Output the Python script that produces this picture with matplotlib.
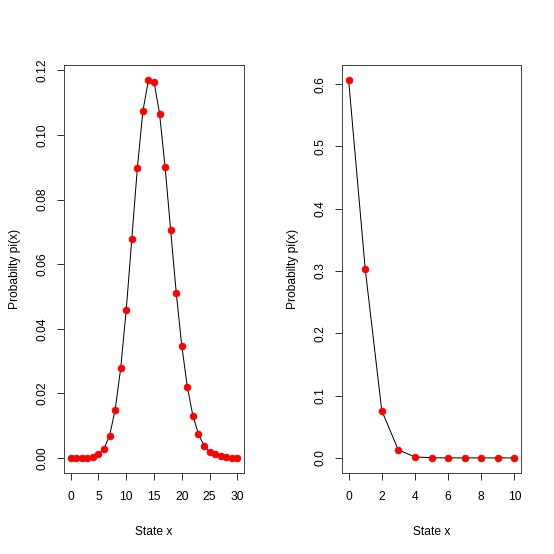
import matplotlib
matplotlib.use("Agg")
import matplotlib.pyplot as plt
from matplotlib.ticker import FixedLocator

plt.rcParams['font.family'] = ['Liberation Sans', 'DejaVu Sans']

# Left panel data
states_left = list(range(31))
prob_left = [0.00001, 0.00002, 0.00004, 0.0001, 0.0004, 0.0011, 0.0028, 0.0069, 0.0148, 0.0277,
             0.0458, 0.0677, 0.0897, 0.1074, 0.1170, 0.1165, 0.1066, 0.0900, 0.0705, 0.0512,
             0.0347, 0.0220, 0.0131, 0.0074, 0.0038, 0.0019, 0.0011, 0.0006, 0.0003, 0.0001, 0.00005]
xticks_left = [0, 5, 10, 15, 20, 25, 30]
yticks_left = [0.00, 0.02, 0.04, 0.06, 0.08, 0.10, 0.12]
yticklabels_left = ["0.00", "0.02", "0.04", "0.06", "0.08", "0.10", "0.12"]

# Right panel data
states_right = list(range(11))
prob_right = [0.6065, 0.3033, 0.0758, 0.0126, 0.0016, 0.0002, 0.00001, 0.0, 0.0, 0.0, 0.0]
xticks_right = [0, 2, 4, 6, 8, 10]
yticks_right = [0.0, 0.1, 0.2, 0.3, 0.4, 0.5, 0.6]
yticklabels_right = ["0.0", "0.1", "0.2", "0.3", "0.4", "0.5", "0.6"]

xlabel = "State x"
ylabel = "Probabilty pi(x)"

W = 554
fig = plt.figure(figsize=(W / 72, W / 72), dpi=72)

def rpad(vals):
    lo, hi = min(vals), max(vals)
    r = hi - lo
    return lo - 0.04 * r, hi + 0.04 * r

def panel(rect, xs, ys, xt, yt, ytl):
    ax = fig.add_axes(rect)
    ax.plot(xs, ys, color='black', lw=1.0, zorder=2)
    ax.plot(xs, ys, linestyle='none', marker='o', markersize=6.5,
            markerfacecolor='#ff0000', markeredgecolor='#ff0000', zorder=3)
    ax.set_xlim(*rpad(xs))
    ax.set_ylim(*rpad(ys))
    ax.xaxis.set_major_locator(FixedLocator(xt))
    ax.set_xticklabels([str(v) for v in xt])
    ax.yaxis.set_major_locator(FixedLocator(yt))
    ax.set_yticklabels(ytl, rotation=90, va='center')
    ax.tick_params(direction='out', length=7, width=0.8, labelsize=12, pad=9, colors='black')
    ax.tick_params(axis='x', pad=11)
    for s in ax.spines.values():
        s.set_linewidth(0.9)
        s.set_color('#333333')
    ax.set_xlabel(xlabel, fontsize=12, labelpad=23)
    ax.set_ylabel(ylabel, fontsize=12, labelpad=15)
    return ax

bottom = (W - 473) / W
height = 408 / W
panel([64 / W, bottom, 180 / W, height], states_left, prob_left, xticks_left, yticks_left, yticklabels_left)
panel([342 / W, bottom, 179 / W, height], states_right, prob_right, xticks_right, yticks_right, yticklabels_right)

fig.savefig("out.png", dpi=72, facecolor='white')
